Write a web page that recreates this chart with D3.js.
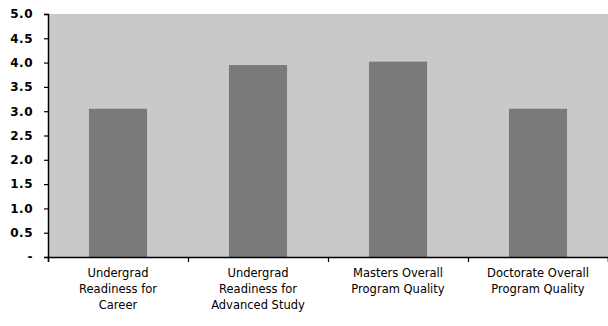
<!DOCTYPE html>
<html>
<head>
<meta charset="utf-8">
<script src="https://cdn.jsdelivr.net/npm/d3@7"></script>
<style>
  html, body { margin: 0; padding: 0; background: #fff; }
  svg { display: block; }
  text { font-family: "DejaVu Sans", Arial, sans-serif; fill: #000; }
</style>
</head>
<body>
<svg id="chart" width="608" height="326"></svg>
<script>
// Program ratings (scale 0 to 5)
const categories = [
  ["Undergrad", "Readiness for", "Career"],
  ["Undergrad", "Readiness for", "Advanced Study"],
  ["Masters Overall", "Program Quality"],
  ["Doctorate Overall", "Program Quality"]
];
const ratings = [3.05, 3.95, 4.02, 3.05];
const yTicks = [0, 0.5, 1.0, 1.5, 2.0, 2.5, 3.0, 3.5, 4.0, 4.5, 5.0];

const svg = d3.select("#chart");
const plot = { left: 48, right: 608, top: 14, bottom: 257 };

const x = d3.scaleBand()
  .domain(d3.range(categories.length))
  .range([plot.left, plot.right])
  .paddingInner(0.585)
  .paddingOuter(0.2925);

const y = d3.scaleLinear().domain([0, 5]).range([plot.bottom, plot.top]);

// plot area background
svg.append("rect")
  .attr("x", plot.left).attr("y", plot.top)
  .attr("width", plot.right - plot.left)
  .attr("height", plot.bottom - plot.top)
  .attr("fill", "#c9c9c9");

// bars
svg.append("g").selectAll("rect")
  .data(ratings)
  .join("rect")
  .attr("x", (d, i) => x(i))
  .attr("y", d => y(d))
  .attr("width", x.bandwidth())
  .attr("height", d => y(0) - y(d))
  .attr("fill", "#7a7a7a");

// y axis
const yAxis = d3.axisLeft(y)
  .tickValues(yTicks)
  .tickSize(4)
  .tickPadding(11)
  .tickFormat(d => d === 0 ? "-" : d3.format(".1f")(d));

const gy = svg.append("g")
  .attr("transform", `translate(${plot.left},0)`)
  .call(yAxis);
gy.select(".domain").attr("stroke", "#000").attr("stroke-width", 1.5);
gy.selectAll(".tick line").attr("stroke", "#000").attr("stroke-width", 1.2);
gy.selectAll(".tick text")
  .attr("font-size", 12)
  .attr("font-weight", "bold")
  .attr("letter-spacing", 0.5)
  .style("font-family", "\"DejaVu Sans\", Arial, sans-serif");

// x axis: baseline with ticks at category boundaries
const xEdge = d3.scaleLinear().domain([0, categories.length]).range([plot.left, plot.right]);
const xAxis = d3.axisBottom(xEdge)
  .tickValues(d3.range(categories.length + 1))
  .tickSize(5)
  .tickFormat("");
const gx = svg.append("g")
  .attr("transform", `translate(0,${plot.bottom})`)
  .call(xAxis);
gx.select(".domain").attr("stroke", "#000").attr("stroke-width", 1.5);
gx.selectAll(".tick line").attr("stroke", "#000").attr("stroke-width", 1.2);

// category labels
const labels = svg.append("g");
categories.forEach((lines, i) => {
  const t = labels.append("text")
    .attr("x", x(i) + x.bandwidth() / 2)
    .attr("y", 277)
    .attr("text-anchor", "middle")
    .attr("font-size", 11.5);
  lines.forEach((line, k) => {
    t.append("tspan")
      .attr("x", x(i) + x.bandwidth() / 2)
      .attr("dy", k === 0 ? 0 : 16)
      .text(line);
  });
});
</script>
</body>
</html>
